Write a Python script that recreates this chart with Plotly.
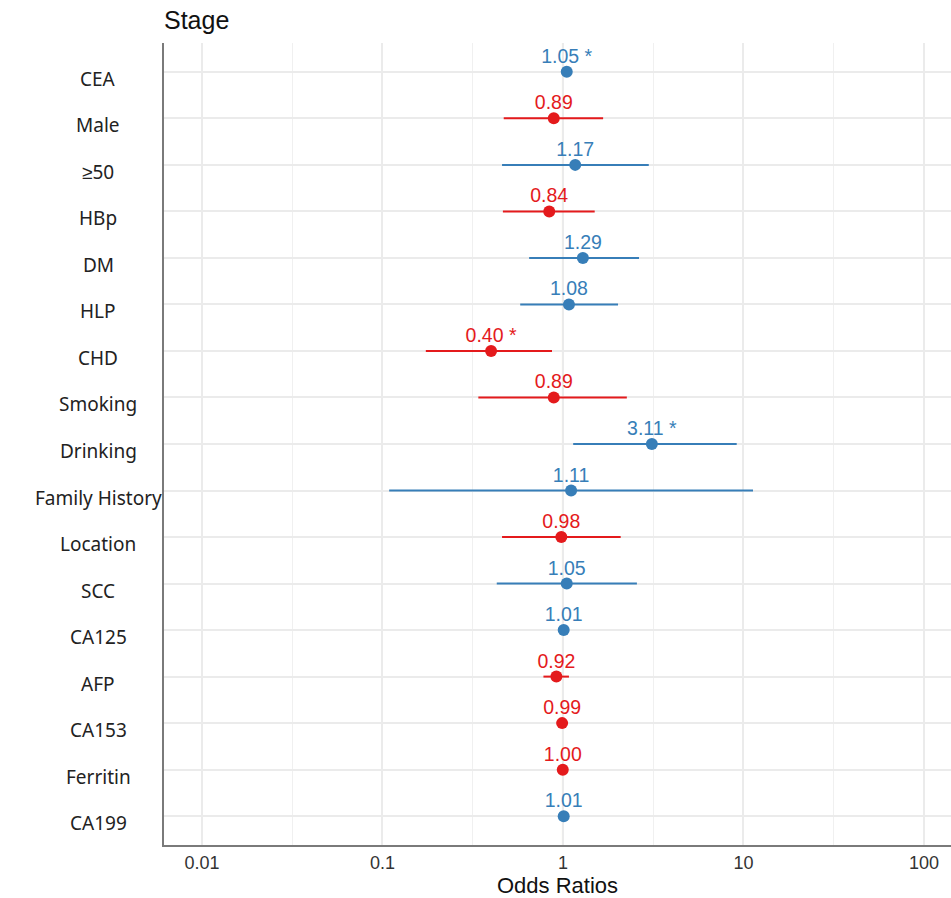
import plotly.graph_objects as go

# ---- data (top to bottom) ----
terms = ["CEA", "Male", "\u226550", "HBp", "DM", "HLP", "CHD", "Smoking", "Drinking",
         "Family History", "Location", "SCC", "CA125", "AFP", "CA153", "Ferritin", "CA199"]
odds = [1.05, 0.89, 1.17, 0.84, 1.29, 1.08, 0.40, 0.89, 3.11,
        1.11, 0.98, 1.05, 1.01, 0.92, 0.99, 0.998, 1.01]
ci_low = [1.02, 0.47, 0.46, 0.465, 0.65, 0.58, 0.174, 0.34, 1.14,
          0.109, 0.46, 0.43, 1.00, 0.78, 0.98, 0.995, 1.00]
ci_high = [1.08, 1.67, 2.99, 1.50, 2.64, 2.02, 0.87, 2.26, 9.18,
           11.3, 2.09, 2.57, 1.02, 1.08, 1.00, 1.001, 1.02]
signif = ["*", "", "", "", "", "", "*", "", "*", "", "", "", "", "", "", "", ""]
x_ticks = [0.01, 0.1, 1, 10, 100]
x_tick_text = ["0.01", "0.1", "1", "10", "100"]
x_minor = [0.0316, 0.316, 3.16, 31.6]

BLUE = "#377EB8"
RED = "#E41A1C"
FONT = "Liberation Sans, Arial, sans-serif"

fig = go.Figure()

for positive, color in [(False, RED), (True, BLUE)]:
    idx = [i for i, v in enumerate(odds) if (v > 1) == positive]
    xs = [odds[i] for i in idx]
    ys = [terms[i] for i in idx]
    fig.add_trace(go.Scatter(
        x=xs, y=ys,
        mode="markers",
        marker=dict(color=color, size=12),
        error_x=dict(type="data", symmetric=False,
                     array=[ci_high[i] - odds[i] for i in idx],
                     arrayminus=[odds[i] - ci_low[i] for i in idx],
                     color=color, thickness=2, width=0),
        showlegend=False,
        cliponaxis=False,
    ))
    fig.add_trace(go.Scatter(
        x=xs, y=ys,
        mode="markers+text",
        marker=dict(color="rgba(0,0,0,0)", size=5),
        text=[f"{odds[i]:.2f}" + (f" {signif[i]}" if signif[i] else "") for i in idx],
        textposition="top center",
        textfont=dict(color=color, size=19.5, family=FONT),
        showlegend=False,
        cliponaxis=False,
        hoverinfo="skip",
    ))

fig.add_shape(type="line", xref="x", yref="paper", x0=1, x1=1, y0=0, y1=1,
              line=dict(color="#F3E3BD", width=2), layer="below")

for t in terms:
    fig.add_annotation(x=(98 - 164) / 787, xref="paper", y=t, yref="y", text=t,
                       showarrow=False, xanchor="center", yanchor="middle", yshift=-7,
                       font=dict(size=19, family="Noto Sans, sans-serif", color="#222222"))

fig.update_xaxes(
    type="log", range=[-2.21, 2.15],
    tickvals=x_ticks, ticktext=x_tick_text,
    tickfont=dict(size=18, family=FONT, color="#333333"),
    showgrid=True, gridcolor="#EBEBEB", gridwidth=1.6,
    minor=dict(tickvals=x_minor, showgrid=True, gridcolor="#F0F0F0", gridwidth=1),
    showline=True, linecolor="#7A7A7A", linewidth=2,
    ticks="", zeroline=False,
    title=dict(text="Odds Ratios", font=dict(size=22, family=FONT, color="#111111"), standoff=4),
)
fig.update_yaxes(
    type="category", categoryorder="array", categoryarray=terms[::-1],
    range=[-0.62, len(terms) - 1 + 0.62],
    showticklabels=False,
    showgrid=True, gridcolor="#EBEBEB", gridwidth=1.6,
    showline=True, linecolor="#7A7A7A", linewidth=2,
    ticks="", zeroline=False,
)

fig.update_layout(
    width=951, height=898,
    margin=dict(l=164, r=0, t=43, b=53),
    paper_bgcolor="white", plot_bgcolor="white",
    title=dict(text="Stage", x=0, xanchor="left", xref="paper",
               y=1 - 20 / 898, yanchor="middle",
               font=dict(size=25, family=FONT, color="#111111")),
)

fig.write_html("out.html",
               config={"displayModeBar": False},
               post_script="document.body.style.margin='0';document.body.style.overflow='hidden';")
